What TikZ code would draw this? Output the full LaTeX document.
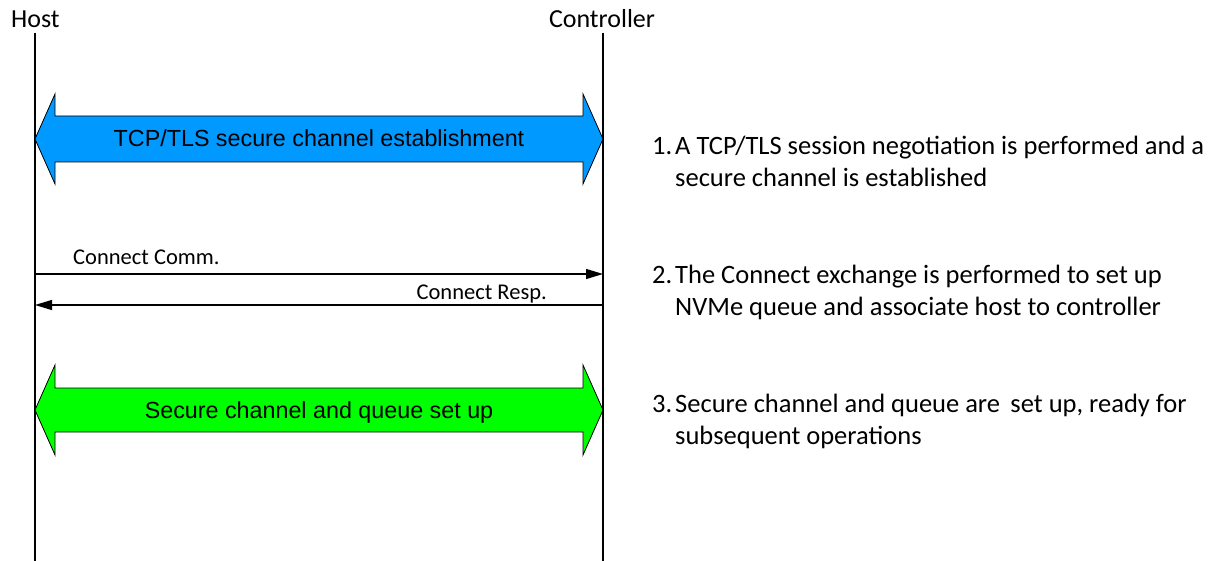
\documentclass[tikz,border=0pt]{standalone}
\usepackage{fontspec}
\setmainfont{Carlito}
\newfontfamily\arialf{Liberation Sans}
\usetikzlibrary{arrows.meta,calc}
\begin{document}
\begin{tikzpicture}[x=1pt,y=-1pt,
  life/.style={line width=1.3pt},
  msg/.style={line width=1.2pt,-{Triangle[length=17pt,width=10pt]}},
  bigarrow/.style={draw=black,line width=0.8pt,line join=miter},
  head/.style={font=\fontsize{26}{31}\selectfont,inner sep=0pt},
  msglbl/.style={font=\fontsize{22.5}{27}\selectfont,inner sep=0pt},
  arrlbl/.style={font=\arialf\fontsize{23.3}{28}\selectfont,inner sep=0pt,anchor=base},
  item/.style={font=\fontsize{26.5}{32}\selectfont,inner sep=0pt,anchor=base west}]
\definecolor{chanblue}{RGB}{0,153,255}
\definecolor{changreen}{RGB}{0,255,0}
\useasboundingbox (0,0) rectangle (1216,561);

% lifeline headers
\node[head,anchor=base west] (host) at (11,28) {Host};
\node[head,anchor=base] (ctrl) at (602,28) {Controller};
\coordinate (h0) at (35,33);
\coordinate (h1) at (35,561);
\coordinate (c0) at (603,33);
\coordinate (c1) at (603,561);
\draw[life] (h0) -- (h1);
\draw[life] (c0) -- (c1);

% TCP/TLS double arrow
\draw[bigarrow,fill=chanblue] (h0 |- 0,139) -- (55,94) -- (55,116) -- (583,116) -- (583,94)
  -- (c0 |- 0,139) -- (583,184) -- (583,162) -- (55,162) -- (55,184) -- cycle;
\node[arrlbl] (tls) at (319,147) {TCP/TLS secure channel establishment};

% Connect exchange
\draw[msg] (h0 |- 0,274) -- (c0 |- 0,274);
\node[msglbl,anchor=base west] (comm) at (73,265) {Connect Comm.};
\draw[msg] (c0 |- 0,305) -- (h0 |- 0,305);
\node[msglbl,anchor=base east] (resp) at (547,300) {Connect Resp.};

% Secure channel set up double arrow
\draw[bigarrow,fill=changreen] (h0 |- 0,410) -- (55,365) -- (55,388) -- (583,388) -- (583,365)
  -- (c0 |- 0,410) -- (583,455) -- (583,432) -- (55,432) -- (55,455) -- cycle;
\node[arrlbl] (setup) at (319,418) {Secure channel and queue set up};

% explanations
\node[item] (n1) at (652,155) {1.};
\node[item] (t1a) at (675,155) {A TCP/TLS session negotiation is performed and a};
\node[item] (t1b) at (675,187) {secure channel is established};
\node[item] (n2) at (652,284) {2.};
\node[item] (t2a) at (675,284) {The Connect exchange is performed to set up};
\node[item] (t2b) at (675,316) {NVMe queue and associate host to controller};
\node[item] (n3) at (652,412) {3.};
\node[item] (t3a) at (675,412) {Secure channel and queue are\, set up, ready for};
\node[item] (t3b) at (675,444) {subsequent operations};
\end{tikzpicture}
\end{document}
